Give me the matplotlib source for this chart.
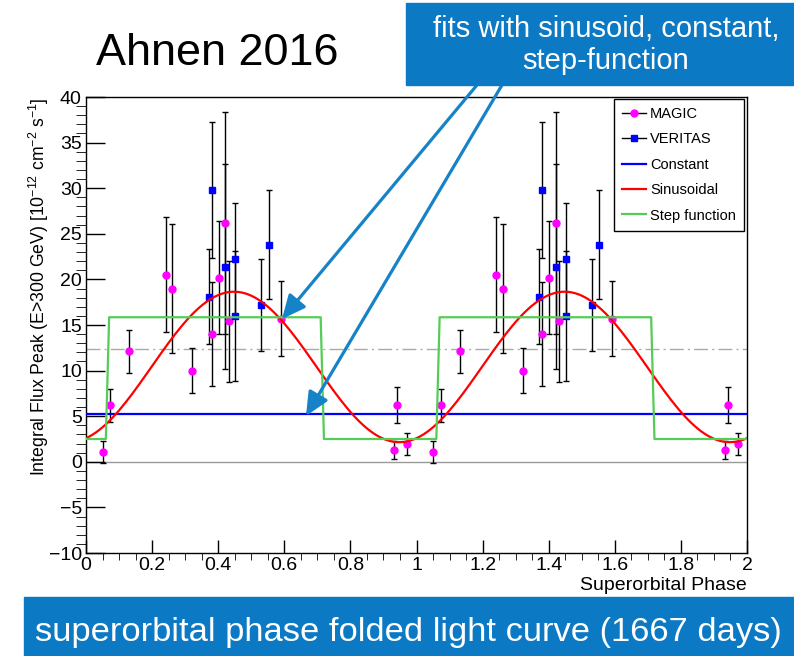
import numpy as np
import matplotlib
matplotlib.use("Agg")
import matplotlib.pyplot as plt
from matplotlib.patches import Rectangle, FancyArrowPatch
from matplotlib.lines import Line2D
from matplotlib.ticker import MultipleLocator, FuncFormatter

plt.rcParams['font.family'] = ['Liberation Sans', 'DejaVu Sans']
plt.rcParams['mathtext.default'] = 'regular'

# data (one period, drawn twice)
magic_phase = [0.050, 0.073, 0.131, 0.241, 0.261, 0.322, 0.381, 0.401, 0.422, 0.432, 0.591, 0.932, 0.942, 0.972]
magic_flux = [1.1, 6.2, 12.1, 20.5, 19.0, 10.0, 14.0, 20.2, 26.2, 15.4, 15.7, 1.3, 6.2, 2.0]
magic_err = [1.2, 1.8, 2.4, 6.3, 7.1, 2.5, 5.7, 6.2, 12.2, 6.6, 4.1, 1.0, 2.0, 1.2]

veritas_phase = [0.371, 0.381, 0.422, 0.451, 0.451, 0.531, 0.553]
veritas_flux = [18.1, 29.8, 21.4, 22.2, 16.0, 17.2, 23.8]
veritas_err = [5.2, 7.45, 11.2, 6.2, 7.1, 5.0, 6.0]

# fit results
const_level = 5.2
sin_mean, sin_amp, sin_peak = 10.4, 8.25, 0.448
step_low, step_high, step_on, step_off = 2.5, 15.85, 0.066, 0.712
mean_flux = 12.4

W, H = 794, 656
fig = plt.figure(figsize=(W / 100, H / 100), dpi=100)


def fx(x):
    return x / W


def fy(y):
    return 1 - y / H


ax = fig.add_axes([fx(86), fy(553), (747 - 86) / W, (553 - 97) / H])

phase_fit = np.linspace(0, 2, 201)
sin_fit = sin_mean + sin_amp * np.cos(2 * np.pi * (phase_fit - sin_peak))
frac = phase_fit % 1
step_fit = np.where((frac >= step_on) & (frac < step_off), step_high, step_low)

ax.plot([0, 2], [0, 0], color='#999999', lw=1, zorder=1)
ax.plot([0, 2], [mean_flux, mean_flux], color='#aaaaaa', lw=1,
        dashes=[10, 3, 1.5, 3], zorder=1)

mp = np.array(magic_phase)
vp = np.array(veritas_phase)
for shift in (0, 1):
    ax.errorbar(mp + shift, magic_flux, yerr=magic_err, fmt='o', color='#ff00ff',
                ms=5, ecolor='black', elinewidth=1, capsize=2.5, capthick=1, zorder=3)
    ax.errorbar(vp + shift, veritas_flux, yerr=veritas_err, fmt='s', color='#0000ff',
                ms=5, ecolor='black', elinewidth=1, capsize=2.5, capthick=1, zorder=3)

ax.plot([0, 2], [const_level, const_level], color='#0000ff', lw=1.6, zorder=4)
ax.plot(phase_fit, sin_fit, color='#ff0000', lw=1.6, zorder=4)
ax.plot(phase_fit, step_fit, color='#55cc55', lw=1.6, zorder=4)

ax.set_xlim(0, 2)
ax.set_ylim(-10, 40)
ax.xaxis.set_major_locator(MultipleLocator(0.2))
ax.xaxis.set_minor_locator(MultipleLocator(0.05))
ax.yaxis.set_major_locator(MultipleLocator(5))
ax.yaxis.set_minor_locator(MultipleLocator(1))
ax.xaxis.set_major_formatter(FuncFormatter(lambda v, p: '%g' % round(v, 2)))
ax.yaxis.set_major_formatter(FuncFormatter(lambda v, p: ('%g' % v).replace('-', '\u2212')))
ax.tick_params(direction='in', top=False, right=False, labelsize=14, width=1)
ax.tick_params(axis='x', which='major', length=9.4, pad=3)
ax.tick_params(axis='x', which='minor', length=5)
ax.tick_params(axis='y', which='major', length=13.7, pad=3)
ax.tick_params(axis='y', which='minor', length=7.2)
for s in ax.spines.values():
    s.set_linewidth(1)

ax.set_xlabel('Superorbital Phase', fontsize=14, loc='right')
ax.xaxis.set_label_coords(1.0, -0.052)
ax.set_ylabel('Integral Flux Peak (E>300 GeV) [10$^{-12}$ cm$^{-2}$ s$^{-1}$]',
              fontsize=12.7, loc='top')
ax.yaxis.set_label_coords(-0.053, 1.0)

handles = [
    Line2D([], [], color='black', lw=1, marker='o', mfc='#ff00ff', mec='#ff00ff', ms=5),
    Line2D([], [], color='black', lw=1, marker='s', mfc='#0000ff', mec='#0000ff', ms=5),
    Line2D([], [], color='#0000ff', lw=1.6),
    Line2D([], [], color='#ff0000', lw=1.6),
    Line2D([], [], color='#55cc55', lw=1.6),
]
labels = ['MAGIC', 'VERITAS', 'Constant', 'Sinusoidal', 'Step function']
leg = ax.legend(handles, labels, loc='upper right', bbox_to_anchor=(0.9955, 0.9956),
                borderaxespad=0, fontsize=10.5, handlelength=1.65, handletextpad=0.3,
                labelspacing=0.78, borderpad=0.55, fancybox=False, framealpha=1,
                edgecolor='black')
leg.get_frame().set_linewidth(1)

# slide decorations
fig.text(fx(96), fy(65), 'Ahnen 2016', fontsize=32.4, ha='left', va='baseline')

box_col = '#0b79c3'
fig.add_artist(Rectangle((fx(406), fy(85)), (794 - 406) / W, (85 - 3) / H,
                         transform=fig.transFigure, color=box_col, zorder=5))
fig.text(fx(606), fy(37), 'fits with sinusoid, constant,', color='white',
         fontsize=21, ha='center', va='baseline', zorder=6)
fig.text(fx(606), fy(69), 'step-function', color='white',
         fontsize=21, ha='center', va='baseline', zorder=6)

fig.add_artist(Rectangle((fx(24), 0), (794 - 24) / W, (656 - 597) / H,
                         transform=fig.transFigure, color=box_col, zorder=5))
fig.text(fx(35), fy(641), 'superorbital phase folded light curve (1667 days)',
         color='white', fontsize=24.8, ha='left', va='baseline', zorder=6)

arrow_col = '#1682c8'
for (x0, y0), (x1, y1) in [((477, 85), (282, 319)), ((502, 85), (306, 416))]:
    fig.add_artist(FancyArrowPatch((fx(x0), fy(y0)), (fx(x1), fy(y1)),
                                   transform=fig.transFigure,
                                   arrowstyle='-|>,head_length=1.3,head_width=0.6',
                                   mutation_scale=11, lw=2.3, color=arrow_col,
                                   shrinkA=0, shrinkB=0, zorder=4))

fig.savefig('out.png', dpi=100)
